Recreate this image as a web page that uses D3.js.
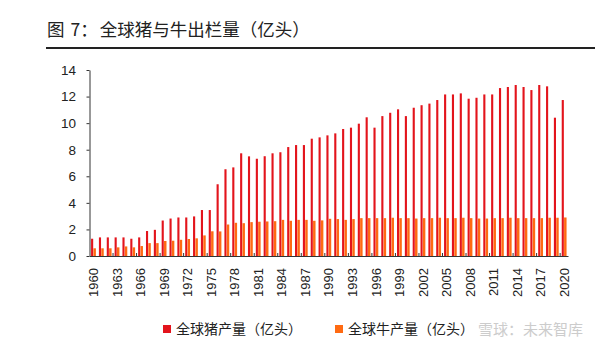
<!DOCTYPE html>
<html>
<head>
<meta charset="utf-8">
<script src="https://cdn.jsdelivr.net/npm/d3@7/dist/d3.min.js"></script>
<style>
  html, body { margin: 0; padding: 0; background: #fff; }
  svg { display: block; }
</style>
</head>
<body>
<svg id="chart" width="600" height="351"></svg>
<script>
// 图7：全球猪与牛出栏量 — clustered columns, 1960–2020.

const YEARS = [1960, 1961, 1962, 1963, 1964, 1965, 1966, 1967, 1968, 1969,
  1970, 1971, 1972, 1973, 1974, 1975, 1976, 1977, 1978, 1979,
  1980, 1981, 1982, 1983, 1984, 1985, 1986, 1987, 1988, 1989,
  1990, 1991, 1992, 1993, 1994, 1995, 1996, 1997, 1998, 1999,
  2000, 2001, 2002, 2003, 2004, 2005, 2006, 2007, 2008, 2009,
  2010, 2011, 2012, 2013, 2014, 2015, 2016, 2017, 2018, 2019, 2020];

// 全球猪产量（亿头）
const PIG = [1.30, 1.40, 1.40, 1.40, 1.40, 1.30, 1.40, 1.88, 1.97, 2.67,
  2.82, 2.90, 2.90, 2.98, 3.46, 3.46, 5.40, 6.53, 6.67, 7.73,
  7.50, 7.32, 7.51, 7.73, 7.81, 8.20, 8.35, 8.35, 8.83, 8.93,
  9.08, 9.23, 9.56, 9.66, 9.96, 10.44, 9.66, 10.53, 10.78, 11.04,
  10.53, 11.16, 11.35, 11.47, 11.74, 12.16, 12.16, 12.24, 11.84, 11.91,
  12.16, 12.16, 12.64, 12.72, 12.87, 12.72, 12.49, 12.87, 12.77, 10.41, 11.74];

// 全球牛产量（亿头）
const CATTLE = [0.58, 0.58, 0.58, 0.65, 0.72, 0.65, 0.75, 0.97, 0.97, 1.13,
  1.15, 1.22, 1.28, 1.33, 1.55, 1.86, 1.85, 2.37, 2.50, 2.47,
  2.55, 2.58, 2.60, 2.62, 2.72, 2.65, 2.72, 2.72, 2.65, 2.68,
  2.80, 2.78, 2.72, 2.78, 2.85, 2.85, 2.85, 2.85, 2.88, 2.85,
  2.85, 2.82, 2.85, 2.85, 2.88, 2.85, 2.85, 2.88, 2.85, 2.82,
  2.82, 2.85, 2.85, 2.88, 2.85, 2.85, 2.85, 2.85, 2.88, 2.88, 2.90];

const SERIES = ['全球猪产量（亿头）', '全球牛产量（亿头）'];
const Y_TICKS = [0, 2, 4, 6, 8, 10, 12, 14];
const X_LABEL_YEARS = [1960, 1963, 1966, 1969, 1972, 1975, 1978, 1981, 1984, 1987, 1990,
  1993, 1996, 1999, 2002, 2005, 2008, 2011, 2014, 2017, 2020];

const RED = '#E3141C';
const ORANGE = '#FF6A12';
const INK = '#222222';
const AXIS = '#333333';
const LATIN = '"Liberation Sans", Arial, sans-serif';
const CJK = '"Noto Sans CJK SC", "Noto Sans", sans-serif';

const svg = d3.select('#chart');

// title + rule
const title = svg.append('text').attr('x', 47).attr('y', 36)
  .attr('fill', INK).style('font-family', CJK).style('font-size', '17.5px');
title.append('tspan').text('图');
title.append('tspan').attr('dx', 6).text('7：');
title.append('tspan').attr('dx', 2).text('全球猪与牛出栏量（亿头）');
svg.append('line').attr('x1', 46).attr('x2', 595).attr('y1', 48).attr('y2', 48)
  .attr('stroke', INK).attr('stroke-width', 2);

const x = d3.scaleBand().domain(YEARS).range([89.5, 568]).paddingInner(0.4).paddingOuter(0.2);
const sub = d3.scaleBand().domain([0, 1]).range([0, x.bandwidth()]);
const y = d3.scaleLinear().domain([0, 14]).range([256, 70]);

const rows = YEARS.map((yr, i) => ({ year: yr, values: [PIG[i], CATTLE[i]] }));

const groups = svg.append('g').selectAll('g').data(rows).join('g')
  .attr('transform', d => `translate(${x(d.year)},0)`);
groups.selectAll('rect').data(d => d.values.map((v, k) => ({ k, v }))).join('rect')
  .attr('x', d => sub(d.k))
  .attr('width', d => d.k === 0 ? sub.bandwidth() * 0.9 : sub.bandwidth() * 1.05)
  .attr('y', d => y(d.v))
  .attr('height', d => y(0) - y(d.v))
  .attr('fill', d => d.k === 0 ? RED : ORANGE);

// y axis
svg.append('g').attr('transform', 'translate(89.5,0)')
  .call(d3.axisLeft(y).tickValues(Y_TICKS).tickSize(3).tickPadding(10.5).tickSizeOuter(0))
  .call(g => g.select('.domain').attr('stroke', AXIS))
  .call(g => g.selectAll('.tick line').attr('stroke', AXIS))
  .call(g => g.selectAll('text').attr('fill', INK)
    .style('font-family', LATIN).style('font-size', '13.5px'));

// x axis: labels every 3 years, rotated
const xAxis = svg.append('g').attr('transform', 'translate(0,256)')
  .call(d3.axisBottom(x).tickValues(X_LABEL_YEARS).tickSize(0).tickSizeOuter(0))
  .call(g => g.select('.domain').attr('stroke', AXIS))
  .call(g => g.selectAll('text')
    .attr('transform', 'rotate(-90)')
    .attr('x', -12).attr('y', 0).attr('dy', '0.36em')
    .attr('text-anchor', 'end').attr('fill', INK)
    .style('font-family', LATIN).style('font-size', '13px'));

// small inside tick marks at left edge of every labelled year
const half = (x.step() - x.bandwidth()) / 2;
xAxis.append('g').selectAll('line').data(X_LABEL_YEARS.slice(1)).join('line')
  .attr('x1', d => x(d) - half).attr('x2', d => x(d) - half)
  .attr('y1', 0).attr('y2', -3)
  .attr('stroke', AXIS).attr('stroke-width', 1);

// legend
const legend = svg.append('g').style('font-family', CJK).style('font-size', '14px');
const LEG_X = [163, 335];
SERIES.forEach((name, i) => {
  legend.append('rect').attr('x', LEG_X[i]).attr('y', 325).attr('width', 8).attr('height', 8)
    .attr('fill', i === 0 ? RED : ORANGE);
  legend.append('text').attr('x', LEG_X[i] + 13).attr('y', 334)
    .attr('fill', INK).text(name);
});

// watermark
svg.append('text').attr('x', 478).attr('y', 335)
  .attr('fill', '#c4c4c4').attr('opacity', 0.85)
  .style('font-family', CJK).style('font-size', '15px')
  .text('雪球：未来智库');
</script>
</body>
</html>
